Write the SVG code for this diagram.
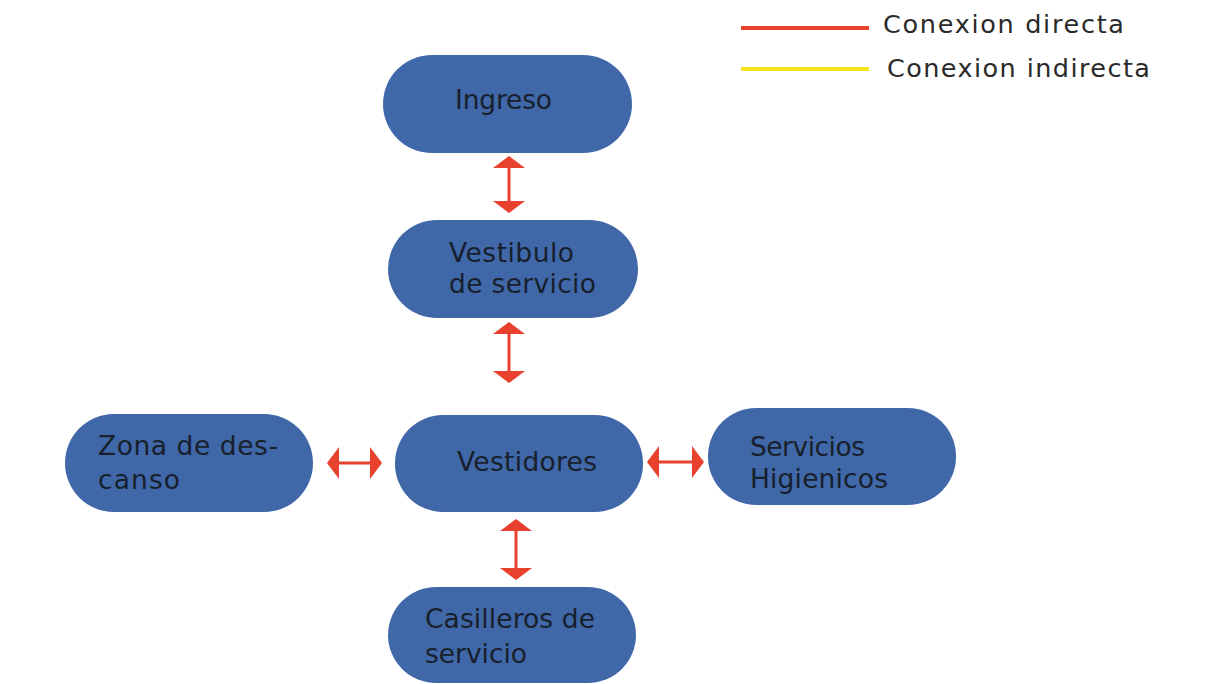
<svg xmlns="http://www.w3.org/2000/svg" width="1219" height="684" viewBox="0 0 1219 684">
  <defs>
    <marker id="head" viewBox="0 0 12 32" refX="11" refY="16" markerWidth="12" markerHeight="32" markerUnits="userSpaceOnUse" orient="auto-start-reverse">
      <path d="M0,0 L12,16 L0,32 Z" fill="#e8412d"/>
    </marker>
  </defs>
  <style>
    .node { fill: #4068a9; }
    .label { font-family: "DejaVu Sans", "Liberation Sans", sans-serif; font-size: 26.5px; fill: #17202b; }
    .legend { font-family: "DejaVu Sans", "Liberation Sans", sans-serif; font-size: 25.5px; fill: #2a2a2a; }
    .link { stroke: #e8412d; stroke-width: 3; fill: none; marker-start: url(#head); marker-end: url(#head); }
  </style>
  <rect width="1219" height="684" fill="#ffffff"/>

  <!-- legend -->
  <g id="legend">
    <line x1="741" y1="28" x2="869" y2="28" stroke="#e8412d" stroke-width="4"/>
    <text class="legend" x="883" y="33" textLength="241" lengthAdjust="spacing">Conexion directa</text>
    <line x1="741" y1="69" x2="869" y2="69" stroke="#f5e61c" stroke-width="4"/>
    <text class="legend" x="887" y="77" textLength="263" lengthAdjust="spacing">Conexion indirecta</text>
  </g>

  <!-- connectors -->
  <g id="connectors">
    <line class="link" x1="509" y1="157" x2="509" y2="212"/>
    <line class="link" x1="509" y1="323" x2="509" y2="382"/>
    <line class="link" x1="516" y1="520" x2="516" y2="579"/>
    <line class="link" x1="328" y1="463" x2="381" y2="463"/>
    <line class="link" x1="648" y1="462" x2="703" y2="462"/>
  </g>

  <g id="ingreso">
    <rect class="node" x="383" y="55" width="249" height="98" rx="49"/>
    <text class="label" x="455" y="109" textLength="97" lengthAdjust="spacing">Ingreso</text>
  </g>
  <g id="vestibulo">
    <rect class="node" x="388" y="220" width="250" height="98" rx="49"/>
    <text class="label" x="449" y="262" textLength="125" lengthAdjust="spacing">Vestibulo</text>
    <text class="label" x="449" y="293" textLength="147" lengthAdjust="spacing">de servicio</text>
  </g>
  <g id="vestidores">
    <rect class="node" x="395" y="415" width="248" height="97" rx="48"/>
    <text class="label" x="457" y="471" textLength="140" lengthAdjust="spacing">Vestidores</text>
  </g>
  <g id="zona-descanso">
    <rect class="node" x="65" y="414" width="248" height="98" rx="49"/>
    <text class="label" x="98" y="455" textLength="180" lengthAdjust="spacing">Zona de des-</text>
    <text class="label" x="98" y="489" textLength="82" lengthAdjust="spacing">canso</text>
  </g>
  <g id="servicios-higienicos">
    <rect class="node" x="708" y="408" width="248" height="97" rx="48"/>
    <text class="label" x="750" y="456" textLength="115" lengthAdjust="spacing">Servicios</text>
    <text class="label" x="750" y="488" textLength="138" lengthAdjust="spacing">Higienicos</text>
  </g>
  <g id="casilleros">
    <rect class="node" x="388" y="587" width="248" height="96" rx="48"/>
    <text class="label" x="425" y="628" textLength="170" lengthAdjust="spacing">Casilleros de</text>
    <text class="label" x="425" y="663" textLength="102" lengthAdjust="spacing">servicio</text>
  </g>
</svg>
